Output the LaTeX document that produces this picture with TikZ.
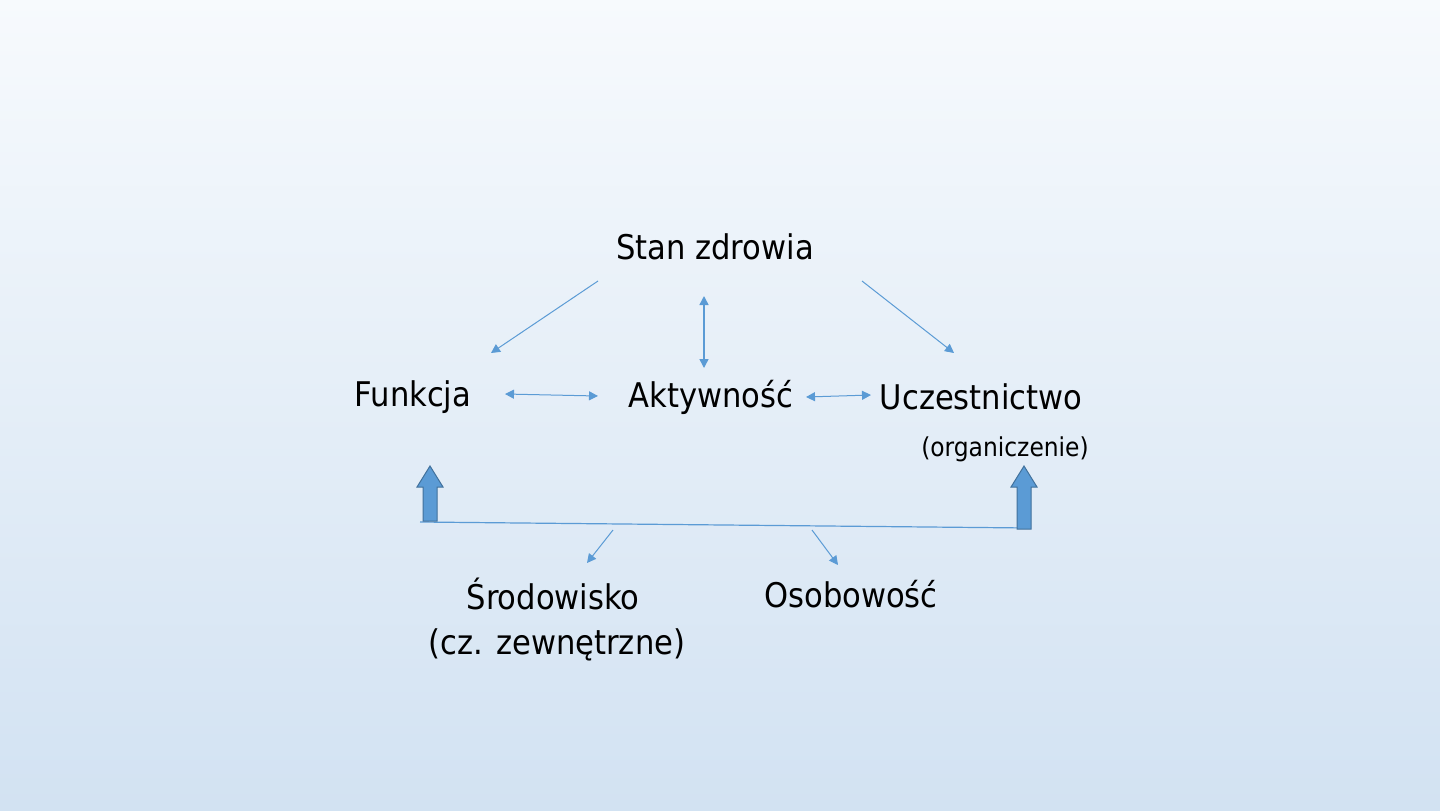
\documentclass[tikz,border=0pt]{standalone}
\usepackage{fontspec}
\setmainfont{DejaVu Sans Condensed}
\usetikzlibrary{arrows.meta}
\definecolor{bgtop}{RGB}{247,250,253}
\definecolor{bgbot}{RGB}{210,226,242}
\definecolor{arr}{RGB}{91,155,213}
\definecolor{arrdark}{RGB}{65,113,156}
\tikzset{
  lbl/.style={inner sep=0pt, font=\fontsize{17}{20}\selectfont, text=black},
  small/.style={inner sep=0pt, font=\fontsize{13}{16}\selectfont, text=black},
  conn/.style={draw=arr, line width=0.5pt, -{Triangle[length=4.5pt,width=4.5pt]}},
  biconn/.style={draw=arr, line width=0.5pt, {Triangle[length=4.5pt,width=4.5pt]}-{Triangle[length=4.5pt,width=4.5pt]}},
  block/.style={fill=arr, draw=arrdark, line width=0.5pt},
}
\begin{document}
\begin{tikzpicture}[x=0.5pt,y=-0.5pt]
\shade[top color=bgtop, bottom color=bgbot] (0,0) rectangle (1440,810);
\useasboundingbox (0,0) rectangle (1440,810);
% nodes
\node[lbl] (stan) at (715,247) {Stan zdrowia};
\node[lbl] (funk) at (413,397) {Funkcja};
\node[lbl] (akt) at (711,397) {Aktywność};
\node[lbl] (ucz) at (981,397) {Uczestnictwo};
\node[small] (org) at (1005,449) {(organiczenie)};
\node[lbl] (srod) at (553,594) {Środowisko};
\node[lbl] (zewn) at (557,645) {(cz. zewnętrzne)};
\node[lbl] (osob) at (851,594) {Osobowość};
% connector coordinates
\coordinate (s1) at (598,281);
\coordinate (f1) at (491,353);
\coordinate (s2) at (862,281);
\coordinate (u1) at (954,353);
\coordinate (s3) at (704,296);
\coordinate (a1) at (704,368);
\coordinate (f2) at (505,394);
\coordinate (a2) at (598,396);
\coordinate (a3) at (806,397);
\coordinate (u2) at (871,395);
\coordinate (bl) at (420,522);
\coordinate (br) at (1030,528);
\coordinate (b1) at (613,530);
\coordinate (sr1) at (587,563);
\coordinate (b2) at (812,530);
\coordinate (os1) at (838,565);
% connectors
\draw[conn] (s1) -- (f1);
\draw[conn] (s2) -- (u1);
\draw[biconn, line width=0.75pt] (s3) -- (a1);
\draw[biconn] (f2) -- (a2);
\draw[biconn] (a3) -- (u2);
\draw[draw=arr, line width=0.6pt] (bl) -- (br);
\draw[conn] (b1) -- (sr1);
\draw[conn] (b2) -- (os1);
% block arrows
\draw[block] (423,521) -- (423,487) -- (417,487) -- (430,466) -- (443,487) -- (437,487) -- (437,521) -- cycle;
\draw[block] (1017,529) -- (1017,487) -- (1011,487) -- (1024,466) -- (1037,487) -- (1031,487) -- (1031,529) -- cycle;
\end{tikzpicture}
\end{document}
